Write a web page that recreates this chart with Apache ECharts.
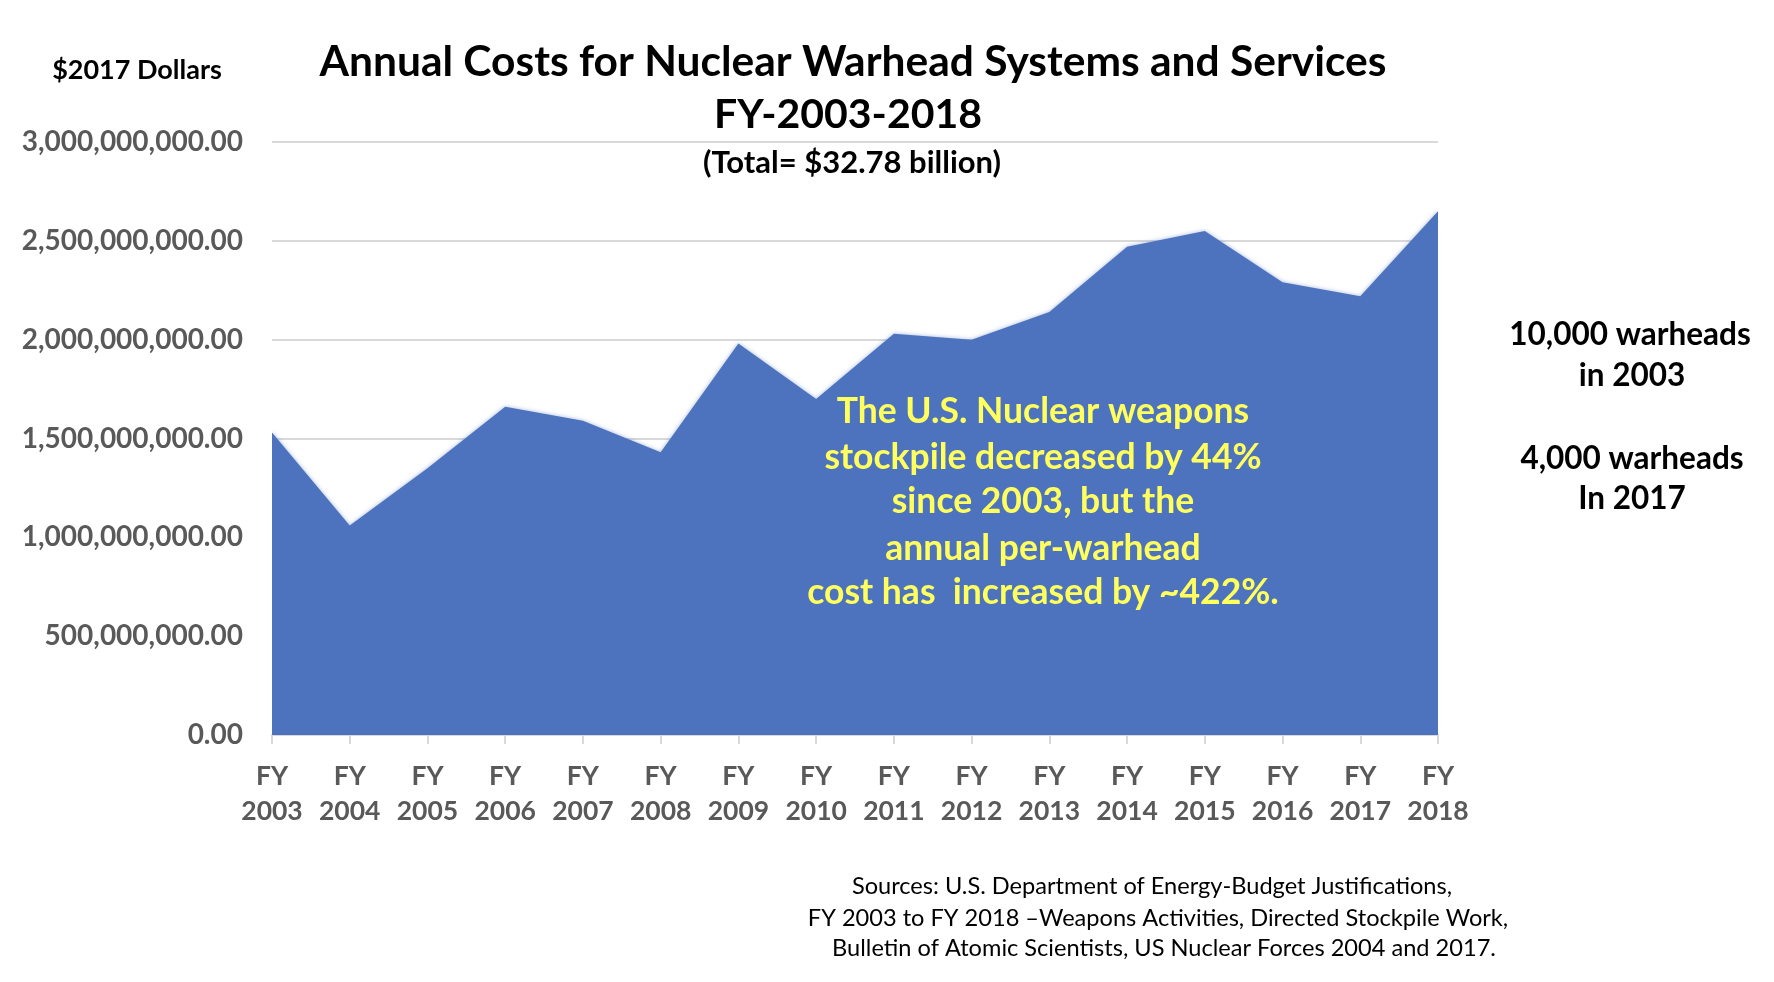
<!DOCTYPE html>
<html>
<head>
<meta charset="utf-8">
<script src="https://cdn.jsdelivr.net/npm/echarts@6/dist/echarts.min.js"></script>
<style>
  html, body { margin: 0; padding: 0; background: #ffffff; }
  #chart { width: 1774px; height: 982px; }
</style>
</head>
<body>
<div id="chart"></div>
<script>
// ---- Data ----
const categories = ['FY\n2003', 'FY\n2004', 'FY\n2005', 'FY\n2006', 'FY\n2007', 'FY\n2008',
  'FY\n2009', 'FY\n2010', 'FY\n2011', 'FY\n2012', 'FY\n2013', 'FY\n2014',
  'FY\n2015', 'FY\n2016', 'FY\n2017', 'FY\n2018'];
const annualCosts = [1530000000, 1060000000, 1350000000, 1660000000, 1590000000, 1430000000,
  1980000000, 1700000000, 2030000000, 2000000000, 2140000000, 2470000000,
  2550000000, 2290000000, 2220000000, 2650000000];
const titleLines = ['Annual Costs for Nuclear Warhead Systems and Services', 'FY-2003-2018'];
const subtitle = '(Total= $32.78 billion)';
const unitLabel = '$2017 Dollars';
const annotationLines = ['The U.S. Nuclear weapons', 'stockpile decreased by 44%',
  'since 2003, but the', 'annual per-warhead', 'cost has  increased by ~422%.'];
const sideNotes = ['10,000 warheads', 'in 2003', '4,000 warheads', 'In 2017'];
const sourceLines = ['Sources: U.S. Department of Energy-Budget Justifications,',
  'FY 2003 to FY 2018 \u2013Weapons Activities, Directed Stockpile Work,',
  'Bulletin of Atomic Scientists, US Nuclear Forces 2004 and 2017.'];

const FONT = 'Lato, "Open Sans", sans-serif';
const fmt = new Intl.NumberFormat('en-US', { minimumFractionDigits: 2, maximumFractionDigits: 2 });

function txt(x, y, text, size, weight, color) {
  return {
    type: 'text', x: x, y: y, silent: true, z: 100,
    style: { text: text, fontFamily: FONT, fontSize: size, fontWeight: weight, fill: color,
      align: 'center', verticalAlign: 'middle' }
  };
}

const graphics = [
  txt(853, 62, titleLines[0], 42.5, 'bold', '#000000'),
  txt(848, 115, titleLines[1], 41, 'bold', '#000000'),
  txt(852, 163, subtitle, 31, 'bold', '#000000'),
  txt(137, 70, unitLabel, 27, 'bold', '#000000'),
  txt(1630, 335, sideNotes[0], 31.5, 'bold', '#000000'),
  txt(1632, 376, sideNotes[1], 31.5, 'bold', '#000000'),
  txt(1632, 459, sideNotes[2], 31.5, 'bold', '#000000'),
  txt(1632, 499, sideNotes[3], 31.5, 'bold', '#000000')
];
const annY = [412, 458, 502, 549, 593];
annotationLines.forEach((l, i) => graphics.push(txt(1043, annY[i], l, 35.5, 'bold', '#FFFF5E')));
const srcY = [886, 918, 948];
const srcX = [1152, 1158, 1164];
sourceLines.forEach((l, i) => graphics.push(txt(srcX[i], srcY[i], l, 23.6, 'normal', '#000000')));

const chart = echarts.init(document.getElementById('chart'));
chart.setOption({
  animation: false,
  backgroundColor: '#ffffff',
  grid: { left: 272, right: 336, top: 142, bottom: 247, containLabel: false },
  xAxis: {
    type: 'category',
    data: categories,
    boundaryGap: false,
    axisLine: { lineStyle: { color: '#d9d9d9', width: 2 } },
    axisTick: { show: true, length: 9, alignWithLabel: true, lineStyle: { color: '#d9d9d9', width: 2 } },
    axisLabel: { color: '#595959', fontFamily: FONT, fontWeight: 'bold', fontSize: 26.5,
      lineHeight: 35, margin: 24, interval: 0 },
    splitLine: { show: false }
  },
  yAxis: {
    type: 'value',
    min: 0, max: 3000000000, interval: 500000000,
    axisLine: { show: false },
    axisTick: { show: false },
    axisLabel: { color: '#595959', fontFamily: FONT, fontWeight: 'bold', fontSize: 28,
      margin: 29, formatter: v => fmt.format(v) },
    splitLine: { lineStyle: { color: '#d9d9d9', width: 2 } }
  },
  series: [{
    type: 'line',
    data: annualCosts,
    symbol: 'none',
    lineStyle: { width: 0 },
    areaStyle: { color: '#4E73BE', opacity: 1, shadowBlur: 4, shadowColor: 'rgba(78,115,190,0.5)' },
    z: 2
  }],
  graphic: graphics
});
</script>
</body>
</html>
